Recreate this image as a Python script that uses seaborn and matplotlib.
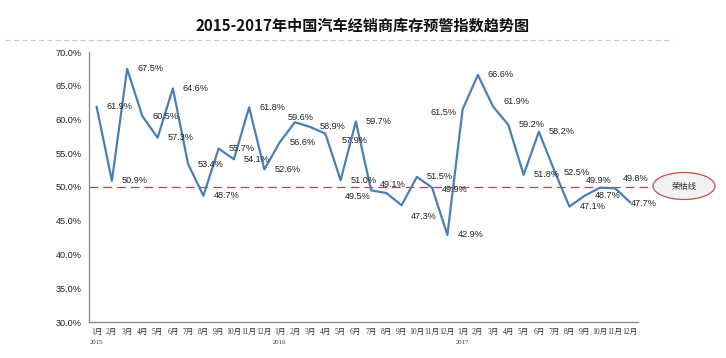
import numpy as np
import pandas as pd
import matplotlib
matplotlib.use('Agg')
import matplotlib.pyplot as plt
import seaborn as sns
from matplotlib.patches import Ellipse
from matplotlib.lines import Line2D

# monthly index values (%), Jan 2015 - Dec 2017
vals_2015 = [61.9, 50.9, 67.5, 60.5, 57.3, 64.6, 53.4, 48.7, 55.7, 54.1, 61.8, 52.6]
vals_2016 = [56.6, 59.6, 58.9, 57.9, 51.0, 59.7, 49.5, 49.1, 47.3, 51.5, 49.9, 42.9]
vals_2017 = [61.5, 66.6, 61.9, 59.2, 51.8, 58.2, 52.5, 47.1, 48.7, 49.9, 49.8, 47.7]
years = ['2015', '2016', '2017']
months = [f'{m}月' for m in range(1, 13)]
threshold = 50.0
threshold_label = '荣枯线'
title = '2015-2017年中国汽车经销商库存预警指数趋势图'

values = vals_2015 + vals_2016 + vals_2017
df = pd.DataFrame({'idx': np.arange(len(values)), 'value': values})

# label offsets in pixels (left edge of text relative to the point), default right of point
label_offsets = {i: (10, 0) for i in range(len(values))}
label_offsets.update({
    13: (-7, -5), 15: (16, 7), 18: (-26, 6), 19: (-7, -9), 20: (9, 11), 22: (10, 2),
    24: (-32, 3), 26: (10, -5), 30: (10, 2), 33: (-14, -7), 34: (8, -10), 35: (0, 1),
})

sns.set_style('white')
plt.rcParams['font.family'] = ['Liberation Sans', 'Noto Sans CJK SC', 'DejaVu Sans']

fig = plt.figure(figsize=(7.26, 3.58), dpi=100)
ax = fig.add_axes([89 / 726, 1 - 322 / 358, (638 - 89) / 726, (322 - 52) / 358])

sns.lineplot(data=df, x='idx', y='value', ax=ax, color='#4A7EBB', linewidth=1.6)

# threshold line, runs past the axes to the ellipse
ax.plot([-0.5, 36.45], [threshold, threshold], color='#B24A47', linewidth=0.9,
        dashes=(7, 4), clip_on=False, zorder=1)

for i, v in enumerate(values):
    dx, dy = label_offsets[i]
    ax.annotate(f'{v:.1f}%', (i, v), xytext=(dx * 0.72, -dy * 0.72), textcoords='offset points',
                ha='left', va='center', fontsize=6.6, color='#222222')

ax.set_xlim(-0.5, len(values) - 0.5)
ax.set_ylim(30, 70)
ax.set_yticks(np.arange(30, 71, 5))
ax.set_yticklabels([f'{t:.1f}%' for t in np.arange(30, 71, 5)], fontsize=6.6, color='#222222')

ax.set_xticks(np.arange(len(values)))
ax.set_xticklabels(months * 3, fontsize=5.5, color='#333333',
                   family=['Liberation Serif', 'Noto Sans CJK SC'])
ax.set_xticks(np.arange(-0.5, len(values), 1), minor=True)
ax.tick_params(axis='x', which='major', length=0, pad=4)
ax.tick_params(axis='x', which='minor', length=3, width=0.7, color='#868686', direction='out')
ax.tick_params(axis='y', which='major', length=3, width=0.7, color='#868686', direction='out', pad=2)

for i, y in enumerate(years):
    ax.text(i * 12 - 0.45, -20 / 270, y, transform=ax.get_xaxis_transform(), ha='left', va='center',
            fontsize=4.8, color='#333333', family='Liberation Serif')

ax.set_xlabel('')
ax.set_ylabel('')
for s in ['top', 'right']:
    ax.spines[s].set_visible(False)
for s in ['left', 'bottom']:
    ax.spines[s].set_color('#868686')
    ax.spines[s].set_linewidth(0.9)

# ellipse marker for threshold
ell = Ellipse((684 / 726, 1 - 186 / 358), 62 / 726, 27 / 358, transform=fig.transFigure,
              facecolor='#F2F2F2', edgecolor='#C0504D', linewidth=0.9)
fig.add_artist(ell)
fig.text(684 / 726, 1 - 186 / 358, threshold_label, ha='center', va='center',
         fontsize=6, color='#333333', family=['Noto Sans CJK SC'])

# title and dashed separator
fig.text(0.5, 1 - 26 / 358, title, ha='center', va='center', fontsize=10.9,
         fontweight='bold', family=['Noto Sans CJK SC'], color='#111111')
fig.add_artist(Line2D([5 / 726, 672 / 726], [1 - 40 / 358, 1 - 40 / 358],
                      transform=fig.transFigure, color='#C8C8C8', linewidth=0.8,
                      dashes=(5, 2.5)))

fig.savefig('out.png', dpi=100)
